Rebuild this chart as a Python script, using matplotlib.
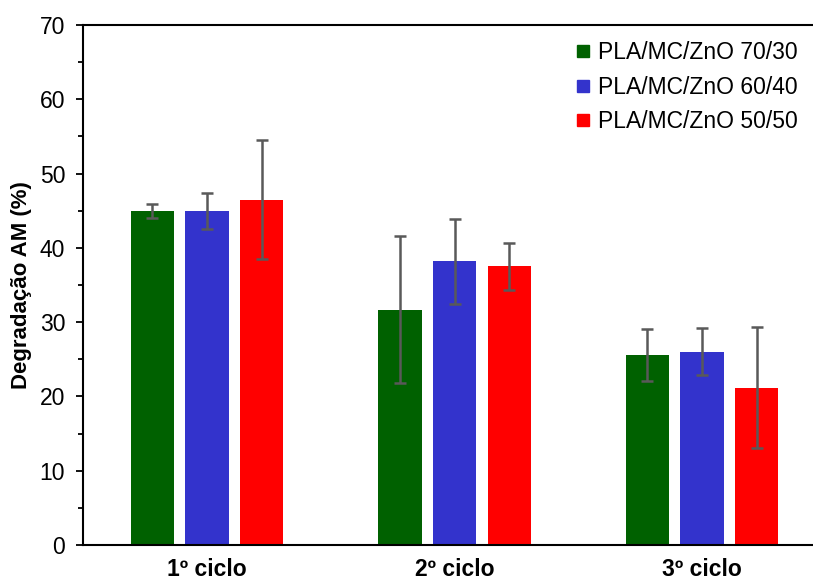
import matplotlib
matplotlib.use("Agg")
import matplotlib.pyplot as plt
from matplotlib.lines import Line2D
import numpy as np

plt.rcParams['font.family'] = ['Liberation Sans', 'DejaVu Sans']

categories = ["1º ciclo", "2º ciclo", "3º ciclo"]
series_names = ["PLA/MC/ZnO 70/30", "PLA/MC/ZnO 60/40", "PLA/MC/ZnO 50/50"]
vals_7030 = [45.0, 31.7, 25.6]
err_7030 = [0.95, 9.9, 3.5]
vals_6040 = [45.0, 38.2, 26.0]
err_6040 = [2.4, 5.75, 3.15]
vals_5050 = [46.5, 37.5, 21.2]
err_5050 = [8.0, 3.15, 8.2]
colors = ["#006100", "#3333CC", "#FF0000"]

W, H = 813, 583
fig = plt.figure(figsize=(W / 100, H / 100), dpi=100)
left = 83.3 / W
bottom = 1 - 545 / H
ax = fig.add_axes([left, bottom, 742.5 / W, 520 / H])

x = np.arange(len(categories))
width = 0.175
offs = [-0.221, 0.0, 0.221]
for vals, errs, c, name, o in zip([vals_7030, vals_6040, vals_5050],
                                  [err_7030, err_6040, err_5050],
                                  colors, series_names, offs):
    ax.bar(x + o, vals, width, color=c, label=name, zorder=2)
    ax.errorbar(x + o, vals, yerr=errs, fmt='none', ecolor='#595959',
                elinewidth=1.8, capsize=4, capthick=1.8, zorder=3)

ax.set_xlim(-0.5, 2.5)
ax.set_ylim(0, 70)
ax.set_yticks(np.arange(0, 71, 10))
ax.set_yticks(np.arange(5, 70, 10), minor=True)
ax.set_xticks(x)
ax.set_xticklabels(categories, fontsize=16.5, fontweight='bold')
ax.tick_params(axis='x', length=0, pad=9)
ax.tick_params(axis='y', which='major', direction='out', length=5, width=1.3,
               labelsize=16.5, pad=8, colors='black')
ax.tick_params(axis='y', which='minor', direction='out', length=3.5, width=1.3)
for s in ['left', 'bottom', 'top']:
    ax.spines[s].set_linewidth(1.5)
ax.spines['right'].set_visible(False)

ax.set_ylabel("Degradação AM (%)", fontsize=16, fontweight='bold')
ax.yaxis.set_label_coords(-0.069, 0.5)

handles = [Line2D([], [], marker='s', linestyle='none', markersize=8.5,
                  markerfacecolor=c, markeredgecolor=c) for c in colors]
leg = ax.legend(handles, series_names, loc='upper right',
                bbox_to_anchor=((W - 6 - left * W) / 742.5, (545 - 32) / 520),
                frameon=False, fontsize=16.5, handlelength=0.6, handletextpad=0.35,
                labelspacing=0.5, borderaxespad=0)

fig.savefig("out.png", dpi=100)
